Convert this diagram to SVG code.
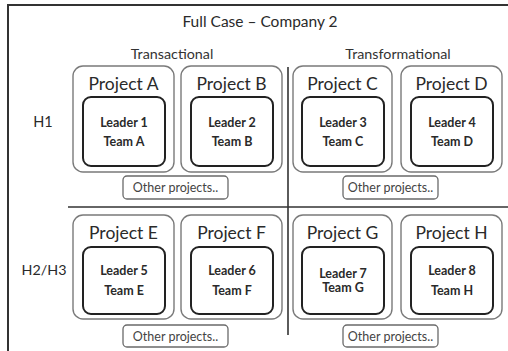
<svg xmlns="http://www.w3.org/2000/svg" width="508" height="351" viewBox="0 0 508 351">
<style>
text{font-family:Lato,"Open Sans","Liberation Sans",sans-serif;fill:#2a2a2a;text-anchor:middle}
.proj{fill:#fff;stroke:#7a7a7a;stroke-width:1.4}
.lead{fill:#fff;stroke:#222;stroke-width:2}
.oth{fill:#fff;stroke:#6a6a6a;stroke-width:1.3}
.pt{font-size:17.5px}
.lt{font-size:12.5px;font-weight:bold}
.ot{font-size:12.5px;fill:#444}
.hd{font-size:14.3px;fill:#333}
.line{stroke:#333;fill:none}
</style>
<rect width="508" height="351" fill="#fff"/>
<g id="frame">
<path class="line" d="M8 351 V5 H508" stroke-width="2"/>
</g>
<g id="labels">
<text x="260" y="27" style="font-size:15.5px">Full Case – Company 2</text>
<text x="172" y="59" class="hd">Transactional</text>
<text x="398" y="59" class="hd">Transformational</text>
<text x="43" y="127" style="font-size:14.5px">H1</text>
<text x="44" y="275" style="font-size:14.3px">H2/H3</text>
</g>
<g id="connectors">
<line class="line" x1="288" y1="67" x2="288" y2="335" stroke-width="1.6"/>
<line class="line" x1="68" y1="207" x2="508" y2="207" stroke-width="1.6"/>
</g>
<g id="projA"><rect class="proj" x="73" y="66" width="101" height="106" rx="10"/><text class="pt" x="123.5" y="90">Project A</text><rect class="lead" x="83" y="97" width="82" height="69" rx="8"/><text class="lt" x="124" y="127">Leader 1</text><text class="lt" x="124" y="146">Team A</text></g>
<g id="projB"><rect class="proj" x="181" y="66" width="101" height="106" rx="10"/><text class="pt" x="231.5" y="90">Project B</text><rect class="lead" x="191" y="97" width="82" height="69" rx="8"/><text class="lt" x="232" y="127">Leader 2</text><text class="lt" x="232" y="146">Team B</text></g>
<g id="projC"><rect class="proj" x="293" y="66" width="99" height="106" rx="10"/><text class="pt" x="342.5" y="90">Project C</text><rect class="lead" x="302" y="97" width="82" height="69" rx="8"/><text class="lt" x="343" y="127">Leader 3</text><text class="lt" x="343" y="146">Team C</text></g>
<g id="projD"><rect class="proj" x="401" y="66" width="101" height="106" rx="10"/><text class="pt" x="451.5" y="90">Project D</text><rect class="lead" x="411" y="97" width="82" height="69" rx="8"/><text class="lt" x="452" y="127">Leader 4</text><text class="lt" x="452" y="146">Team D</text></g>
<g id="other1"><rect class="oth" x="123" y="176" width="105" height="23" rx="4"/><text class="ot" x="175.5" y="192">Other projects..</text></g>
<g id="other2"><rect class="oth" x="343" y="176" width="95" height="23" rx="4"/><text class="ot" x="390.5" y="192">Other projects..</text></g>
<g id="projE"><rect class="proj" x="73" y="215" width="101" height="104" rx="10"/><text class="pt" x="123.5" y="239">Project E</text><rect class="lead" x="83" y="247" width="82" height="67" rx="8"/><text class="lt" x="124" y="275">Leader 5</text><text class="lt" x="124" y="295">Team E</text></g>
<g id="projF"><rect class="proj" x="181" y="215" width="101" height="104" rx="10"/><text class="pt" x="231.5" y="239">Project F</text><rect class="lead" x="191" y="247" width="82" height="67" rx="8"/><text class="lt" x="232" y="275">Leader 6</text><text class="lt" x="232" y="295">Team F</text></g>
<g id="projG"><rect class="proj" x="293" y="215" width="99" height="104" rx="10"/><text class="pt" x="342.5" y="239">Project G</text><rect class="lead" x="302" y="247" width="82" height="67" rx="8"/><text class="lt" x="343" y="278">Leader 7</text><text class="lt" x="343" y="292">Team G</text></g>
<g id="projH"><rect class="proj" x="401" y="215" width="101" height="104" rx="10"/><text class="pt" x="451.5" y="239">Project H</text><rect class="lead" x="411" y="247" width="82" height="67" rx="8"/><text class="lt" x="452" y="275">Leader 8</text><text class="lt" x="452" y="295">Team H</text></g>
<g id="other3"><rect class="oth" x="123" y="325" width="105" height="22" rx="4"/><text class="ot" x="175.5" y="341">Other projects..</text></g>
<g id="other4"><rect class="oth" x="343" y="325" width="95" height="22" rx="4"/><text class="ot" x="390.5" y="341">Other projects..</text></g>
</svg>
